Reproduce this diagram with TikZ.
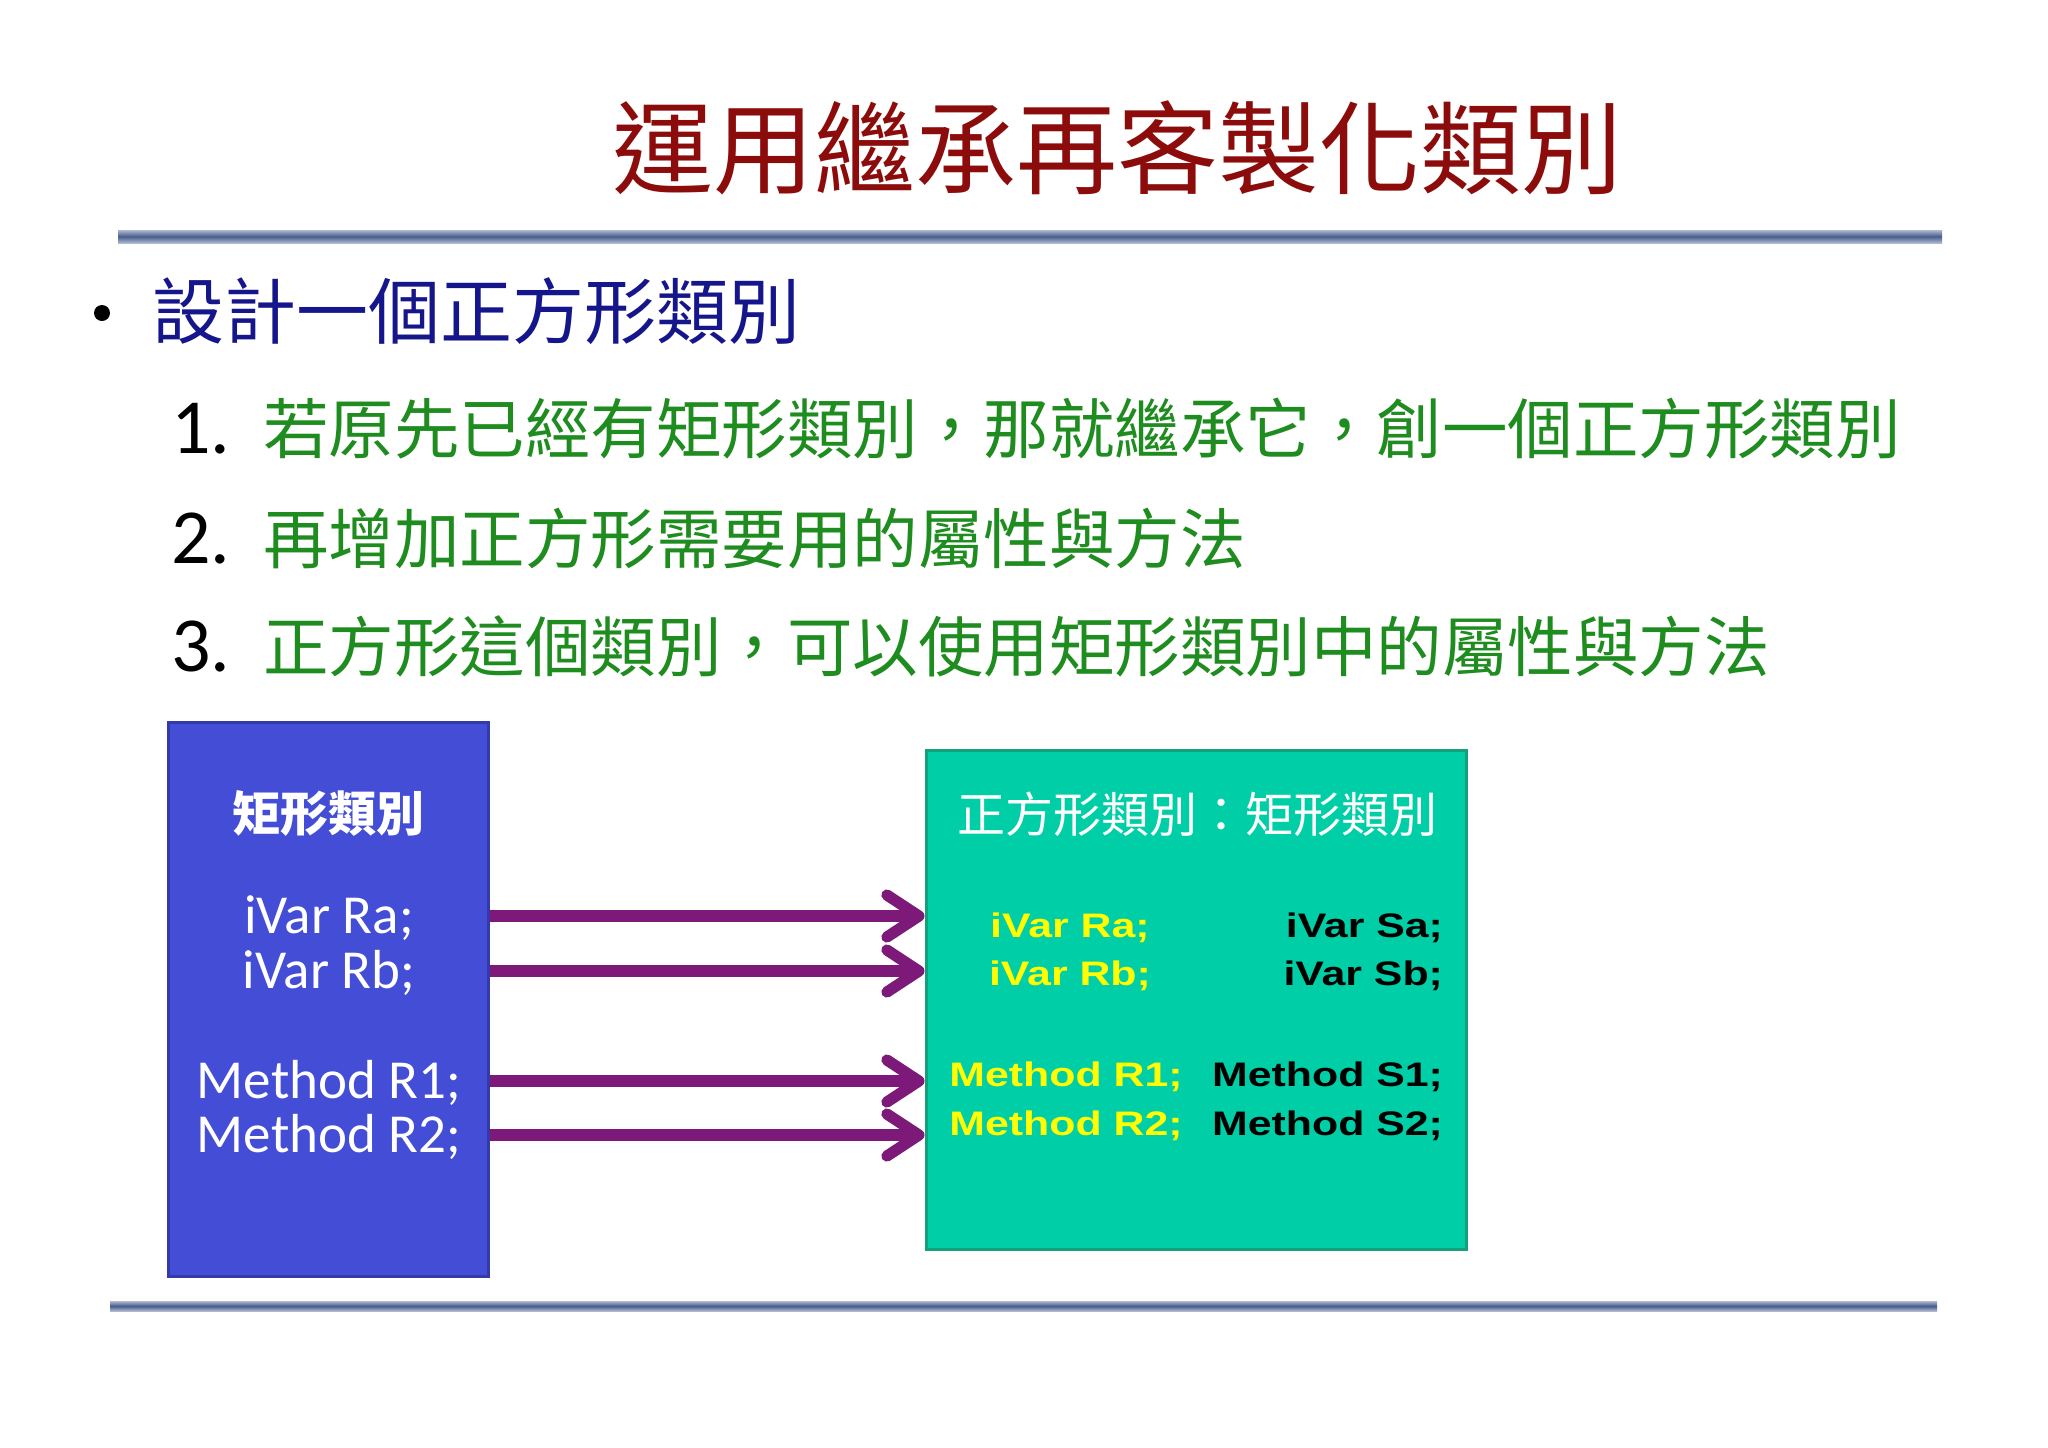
\documentclass[tikz,border=0pt]{standalone}
\usepackage{fontspec}
\setmainfont{Carlito}
\newfontfamily\cjk{Noto Sans CJK TC}
\newfontfamily\carl{Carlito}
\newfontfamily\widebold[FakeStretch=1.26]{Liberation Sans Bold}
\usetikzlibrary{arrows.meta}
\definecolor{titlered}{RGB}{140,12,12}
\definecolor{navy}{RGB}{22,22,140}
\definecolor{lgreen}{RGB}{30,140,30}
\definecolor{boxblue}{RGB}{67,77,214}
\definecolor{boxblueb}{RGB}{52,58,170}
\definecolor{tealfill}{RGB}{0,206,166}
\definecolor{tealb}{RGB}{20,160,125}
\definecolor{arrowpurple}{RGB}{125,25,120}
\definecolor{ruledark}{RGB}{70,92,140}
\definecolor{rulelight}{RGB}{175,186,208}
\definecolor{yel}{RGB}{255,255,0}
\begin{document}
\begin{tikzpicture}[x=0.5pt,y=-0.5pt,
  txt/.style={inner sep=0pt, outer sep=0pt},
  classbox/.style={inner sep=0pt, line width=1.5pt},
  ltext/.style={txt, text=white, font=\carl\fontsize{27.5}{32}\selectfont, text height=17.7pt, text depth=0pt},
  rtext/.style={txt, font=\widebold\fontsize{17}{20}\selectfont, text height=12.2pt, text depth=0pt},
  arr/.style={draw=arrowpurple, line width=5.6pt,
    -{Straight Barb[length=16pt, width=21pt, line cap=round, line join=round]}},
  rulebar/.style={top color=rulelight, bottom color=rulelight, middle color=ruledark}
]
\useasboundingbox[fill=white] (0,0) rectangle (2048,1447);

% title
\node[txt, anchor=base, text=titlered, font=\cjk\fontsize{50.5}{56}\selectfont] (title) at (1117,186) {運用繼承再客製化類別};
\shade[rulebar] (118,230) rectangle (1942,243);

% bullet
\node[circle, fill=black, minimum size=8pt, inner sep=0pt] (bul) at (102,313) {};
\node[txt, anchor=base west, text=navy, font=\cjk\fontsize{36}{40}\selectfont] (head) at (152,338) {設計一個正方形類別};

% numbered list
\node[txt, anchor=base west, font=\carl\fontsize{39}{44}\selectfont] (n1) at (171,453) {1.};
\node[txt, anchor=base west, text=lgreen, font=\cjk\fontsize{32.75}{38}\selectfont] (l1) at (263,453) {若原先已經有矩形類別，那就繼承它，創一個正方形類別};
\node[txt, anchor=base west, font=\carl\fontsize{39}{44}\selectfont] (n2) at (171,563) {2.};
\node[txt, anchor=base west, text=lgreen, font=\cjk\fontsize{32.75}{38}\selectfont] (l2) at (263,563) {再增加正方形需要用的屬性與方法};
\node[txt, anchor=base west, font=\carl\fontsize{39}{44}\selectfont] (n3) at (171,671) {3.};
\node[txt, anchor=base west, text=lgreen, font=\cjk\fontsize{32.75}{38}\selectfont] (l3) at (263,671) {正方形這個類別，可以使用矩形類別中的屬性與方法};

% left class box
\node[classbox, draw=boxblueb, fill=boxblue, minimum width=160pt, minimum height=277pt] (L) at (328,999) {};
\node[txt, anchor=base, text=white, font=\cjk\bfseries\fontsize{24}{28}\selectfont] (Lt) at (328,831) {矩形類別};
\node[ltext] (ra) at (329,916) {iVar Ra;};
\node[ltext] (rb) at (329,971) {iVar Rb;};
\node[ltext] (m1) at (329,1081) {Method R1;};
\node[ltext] (m2) at (329,1135) {Method R2;};

% right class box
\node[classbox, draw=tealb, fill=tealfill, minimum width=270pt, minimum height=249.5pt] (R) at (1196,999.5) {};
\node[txt, anchor=base, text=white, font=\cjk\fontsize{24}{28}\selectfont] (Rt) at (1197,832) {正方形類別：矩形類別};
\node[rtext, text=yel] (sra) at (1070,925) {iVar Ra;};
\node[rtext, text=yel] (srb) at (1070,973) {iVar Rb;};
\node[rtext, text=yel] (sm1) at (1066,1074) {Method R1;};
\node[rtext, text=yel] (sm2) at (1066,1123) {Method R2;};
\node[rtext, text=black, anchor=east] (ssa) at (1443,925) {iVar Sa;};
\node[rtext, text=black, anchor=east] (ssb) at (1443,973) {iVar Sb;};
\node[rtext, text=black, anchor=east] (ss1) at (1443,1074) {Method S1;};
\node[rtext, text=black, anchor=east] (ss2) at (1443,1123) {Method S2;};

% inheritance arrows
\draw[arr] (ra -| L.east) -- (ra -| R.west);
\draw[arr] (rb -| L.east) -- (rb -| R.west);
\draw[arr] (m1 -| L.east) -- (m1 -| R.west);
\draw[arr] (m2 -| L.east) -- (m2 -| R.west);

\shade[rulebar] (110,1301) rectangle (1937,1311);
\end{tikzpicture}
\end{document}
